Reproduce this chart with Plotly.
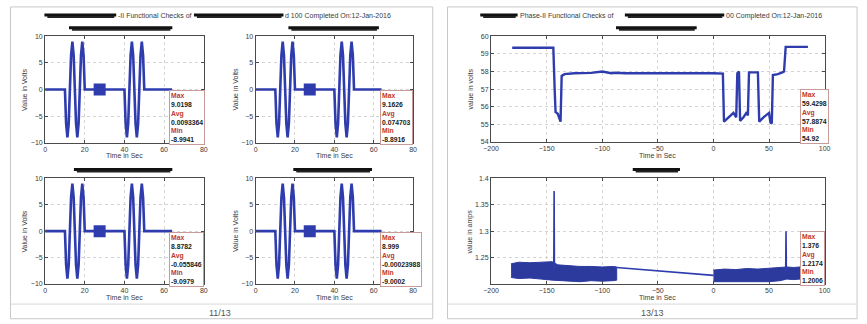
import plotly.graph_objects as go

W, H = 867, 324

# ---------------- data ----------------
# left panel: same test waveform in four channels (Time in Sec, Value in Volts)
wave_t = [0, 10, 10.6, 11.25, 11.9, 12.5, 13.1, 13.75, 14.4, 15, 15.6, 16.25, 16.9, 17.5,
          18.1, 18.75, 19.4, 20, 40, 40.6, 41.25, 41.9, 42.5, 43.1, 43.75, 44.4, 45, 45.6,
          46.25, 46.9, 47.5, 48.1, 48.75, 49.4, 50, 64]
wave_v = [0, 0, -6.4, -9, -6.4, 0, 6.4, 9, 6.4, 0, -6.4, -9, -6.4, 0,
          6.4, 9, 6.4, 0, 0, -6.4, -9, -6.4, 0, 6.4, 9, 6.4, 0, -6.4,
          -9, -6.4, 0, 6.4, 9, 6.4, 0, 0]
marker_t = [27.5]
marker_v = [0]
stats_max = ["9.0198", "9.1626", "8.8782", "8.999"]
stats_avg = ["0.0093364", "0.074703", "-0.055846", "-0.00023988"]
stats_min = ["-8.9941", "-8.8916", "-9.0979", "-9.0002"]

# right panel, top: battery voltage
volt_t = [-181, -160, -144, -142.8, -142, -140, -139, -137.5, -136.5, -134, -125, -110, -100,
          -95, -92, -88, -80, 0, 8.5, 9.5, 15, 18, 20.5, 21.5, 23, 24, 27, 30, 31, 32, 40,
          41.2, 45, 50, 51.3, 52.5, 53.5, 58, 62, 63.5, 65, 85]
volt_v = [59.35, 59.33, 59.35, 57.0, 55.7, 55.6, 55.45, 55.15, 57.75, 57.85, 57.9, 57.92, 58.0,
          57.95, 57.9, 57.93, 57.9, 57.9, 57.88, 55.15, 55.5, 55.65, 55.4, 57.9, 58.0, 55.2,
          55.4, 55.7, 55.5, 57.95, 57.95, 55.15, 55.4, 55.65, 55.1, 55.05, 57.8, 57.85, 57.95,
          58.0, 59.4, 59.4]
volt_stats = ["59.4298", "57.8874", "54.92"]

# right panel, bottom: current (noise band envelopes, connector and spikes)
band1_t = [-182, -175, -165, -155, -145, -140, -130, -120, -110, -100, -90, -87]
band1_hi = [1.238, 1.241, 1.240, 1.241, 1.242, 1.236, 1.234, 1.233, 1.233, 1.232, 1.233, 1.232]
band1_lo = [1.212, 1.210, 1.211, 1.209, 1.207, 1.206, 1.205, 1.204, 1.206, 1.205, 1.206, 1.207]
band2_t = [0, 10, 20, 30, 40, 50, 60, 66, 72, 78]
band2_hi = [1.226, 1.228, 1.227, 1.229, 1.228, 1.229, 1.230, 1.232, 1.231, 1.232]
band2_lo = [1.204, 1.203, 1.204, 1.203, 1.204, 1.204, 1.206, 1.209, 1.208, 1.209]
link_t = [-87, 0]
link_v = [1.231, 1.216]
spike1_t = [-143.6, -143.3, -143.0]
spike1_v = [1.228, 1.376, 1.226]
spike2_t = [65.0, 65.3, 65.6]
spike2_v = [1.222, 1.300, 1.224]
amp_stats = ["1.376", "1.2174", "1.2006"]

# ---------------- helpers ----------------
def px(x):
    return x / W

def py(y):
    return 1 - y / H

BLUE = "#2f3cae"
GRID = "#d4d4d4"
TXT = "#3a3a3a"
RED = "#c0392b"
FONT = "Liberation Sans, Arial, sans-serif"

fig = go.Figure()
layout = dict(width=W, height=H, margin=dict(l=0, r=0, t=0, b=0),
              paper_bgcolor="white", plot_bgcolor="white", showlegend=False)

shapes = []
annotations = []

def axis_common(rng, dtick=None, tickvals=None, dom=None):
    d = dict(range=rng, domain=dom, showgrid=True, gridcolor=GRID, griddash="dot",
             gridwidth=1, zeroline=False, showline=True, linecolor="#4a4a4a", linewidth=1,
             mirror="ticks", ticks="inside", ticklen=3, tickcolor="#4a4a4a",
             tickfont=dict(size=7, color=TXT, family=FONT))
    if dtick is not None:
        d["dtick"] = dtick
        d["tick0"] = rng[0]
    if tickvals is not None:
        d["tickmode"] = "array"
        d["tickvals"] = tickvals
    return d

# axes boxes in pixels: (left, right, top, bottom)
boxes = [
    (37.7, 199, 33, 141.7),
    (251.7, 411.7, 33, 141.7),
    (37.7, 199, 178.3, 286),
    (251.7, 411.7, 178.3, 286),
    (491, 830, 33, 141),
    (491, 830, 178.3, 286),
]

for i, (l, r, t, b) in enumerate(boxes):
    n = i + 1
    xa = "xaxis" if n == 1 else f"xaxis{n}"
    ya = "yaxis" if n == 1 else f"yaxis{n}"
    xr = "x" if n == 1 else f"x{n}"
    yr = "y" if n == 1 else f"y{n}"
    xdom = [px(l), px(r)]
    ydom = [py(b), py(t)]
    if n <= 4:
        layout[xa] = axis_common([0, 80], dtick=20, dom=xdom)
        layout[ya] = axis_common([-10, 10], dtick=5, dom=ydom)
        ylabel = "Value in Volts"
    elif n == 5:
        layout[xa] = axis_common([-200, 100], dtick=50, dom=xdom)
        layout[ya] = axis_common([54, 60], dtick=1, dom=ydom)
        ylabel = "value in volts"
    else:
        layout[xa] = axis_common([-200, 100], dtick=50, dom=xdom)
        layout[ya] = axis_common([1.2, 1.4], tickvals=[1.25, 1.3, 1.35, 1.4], dom=ydom)
        ylabel = "value in amps"
    layout[xa]["anchor"] = yr
    layout[ya]["anchor"] = xr

    # axis titles
    annotations.append(dict(xref="paper", yref="paper", x=px((l + r) / 2), y=py(b + 13.5),
                            text="Time in Sec", showarrow=False,
                            font=dict(size=7, color=TXT, family=FONT),
                            xanchor="center", yanchor="middle"))
    annotations.append(dict(xref="paper", yref="paper", x=px(l - 21), y=py((t + b) / 2),
                            text=ylabel, showarrow=False, textangle=-90,
                            font=dict(size=7, color=TXT, family=FONT),
                            xanchor="center", yanchor="middle"))

    if n <= 4:
        fig.add_trace(go.Scatter(x=wave_t, y=wave_v, mode="lines", xaxis=xr, yaxis=yr,
                                 line=dict(color=BLUE, width=2.6)))
        fig.add_trace(go.Scatter(x=marker_t, y=marker_v, mode="markers", xaxis=xr, yaxis=yr,
                                 marker=dict(symbol="square", size=12, color=BLUE)))
    elif n == 5:
        fig.add_trace(go.Scatter(x=volt_t, y=volt_v, mode="lines", xaxis=xr, yaxis=yr,
                                 line=dict(color=BLUE, width=2.4)))
    else:
        for bt, hi, lo in [(band1_t, band1_hi, band1_lo), (band2_t, band2_hi, band2_lo)]:
            fig.add_trace(go.Scatter(x=bt + bt[::-1], y=hi + lo[::-1], mode="lines",
                                     fill="toself", fillcolor="#2c3a9e",
                                     line=dict(color="#2c3a9e", width=1),
                                     xaxis=xr, yaxis=yr))
        for st, sv in [(link_t, link_v), (spike1_t, spike1_v), (spike2_t, spike2_v)]:
            fig.add_trace(go.Scatter(x=st, y=sv, mode="lines", xaxis=xr, yaxis=yr,
                                     line=dict(color=BLUE, width=1.6)))

# stats boxes
def stats_box(xp, yp, mx, av, mn):
    txt = (f"<span style='color:{RED}'>Max</span><br>{mx}<br>"
           f"<span style='color:{RED}'>Avg</span><br>{av}<br>"
           f"<span style='color:{RED}'>Min</span><br>{mn}")
    annotations.append(dict(xref="paper", yref="paper", x=px(xp), y=py(yp), text=txt,
                            showarrow=False, xanchor="left", yanchor="top", align="left",
                            bgcolor="white", bordercolor="#c99a9a", borderwidth=1,
                            borderpad=1,
                            font=dict(size=6.8, color="#1a1a1a", family=FONT, weight="bold")))

stats_pos = [(164, 88), (378, 88), (164, 233), (378, 233)]
for (xp, yp), mx, av, mn in zip(stats_pos, stats_max, stats_avg, stats_min):
    stats_box(xp, yp, mx, av, mn)
stats_box(805, 87, *volt_stats)
stats_box(805, 232, *amp_stats)

# panel frames
for (x0, x1) in [(2.5, 431.7), (446.7, 863)]:
    shapes.append(dict(type="rect", xref="paper", yref="paper", x0=px(x0), x1=px(x1),
                       y0=py(321.7), y1=py(3), line=dict(color="#c8c8c8", width=1)))
    shapes.append(dict(type="line", xref="paper", yref="paper", x0=px(x0), x1=px(x1),
                       y0=py(306.7), y1=py(306.7), line=dict(color="#d8d8d8", width=1)))

# redaction scribbles (thick black strokes)
scribbles = [
    (37, 110, 12), (189, 280, 12),          # left super title
    (480, 518, 12), (627, 728, 12),         # right super title
    (62, 167, 25), (285, 377, 25), (618, 700, 25),
    (67, 167, 170), (290, 370, 170), (635, 683, 170),
]
for x0, x1, yc in scribbles:
    shapes.append(dict(type="line", xref="paper", yref="paper", x0=px(x0), x1=px(x1),
                       y0=py(yc - 0.8), y1=py(yc - 0.8), line=dict(color="#111111", width=3)))
    shapes.append(dict(type="line", xref="paper", yref="paper", x0=px(x0 + 3), x1=px(x1 - 2),
                       y0=py(yc + 1.2), y1=py(yc + 1.2), line=dict(color="#222222", width=2)))

# super titles (visible parts)
ttl_font = dict(size=7, color=TXT, family=FONT)
annotations += [
    dict(xref="paper", yref="paper", x=px(110), y=py(12), text="-II Functional Checks of",
         showarrow=False, xanchor="left", yanchor="middle", font=ttl_font),
    dict(xref="paper", yref="paper", x=px(280), y=py(12), text="d 100 Completed On:12-Jan-2016",
         showarrow=False, xanchor="left", yanchor="middle", font=ttl_font),
    dict(xref="paper", yref="paper", x=px(518), y=py(12), text="Phase-II Functional Checks of",
         showarrow=False, xanchor="left", yanchor="middle", font=ttl_font),
    dict(xref="paper", yref="paper", x=px(728), y=py(12), text="00 Completed On:12-Jan-2016",
         showarrow=False, xanchor="left", yanchor="middle", font=ttl_font),
    dict(xref="paper", yref="paper", x=px(215), y=py(315.5), text="11/13",
         showarrow=False, xanchor="center", yanchor="middle",
         font=dict(size=9, color="#555555", family=FONT)),
    dict(xref="paper", yref="paper", x=px(655), y=py(315.5), text="13/13",
         showarrow=False, xanchor="center", yanchor="middle",
         font=dict(size=9, color="#555555", family=FONT)),
]

layout["shapes"] = shapes
layout["annotations"] = annotations
fig.update_layout(**layout)
fig.write_html("out.html")
